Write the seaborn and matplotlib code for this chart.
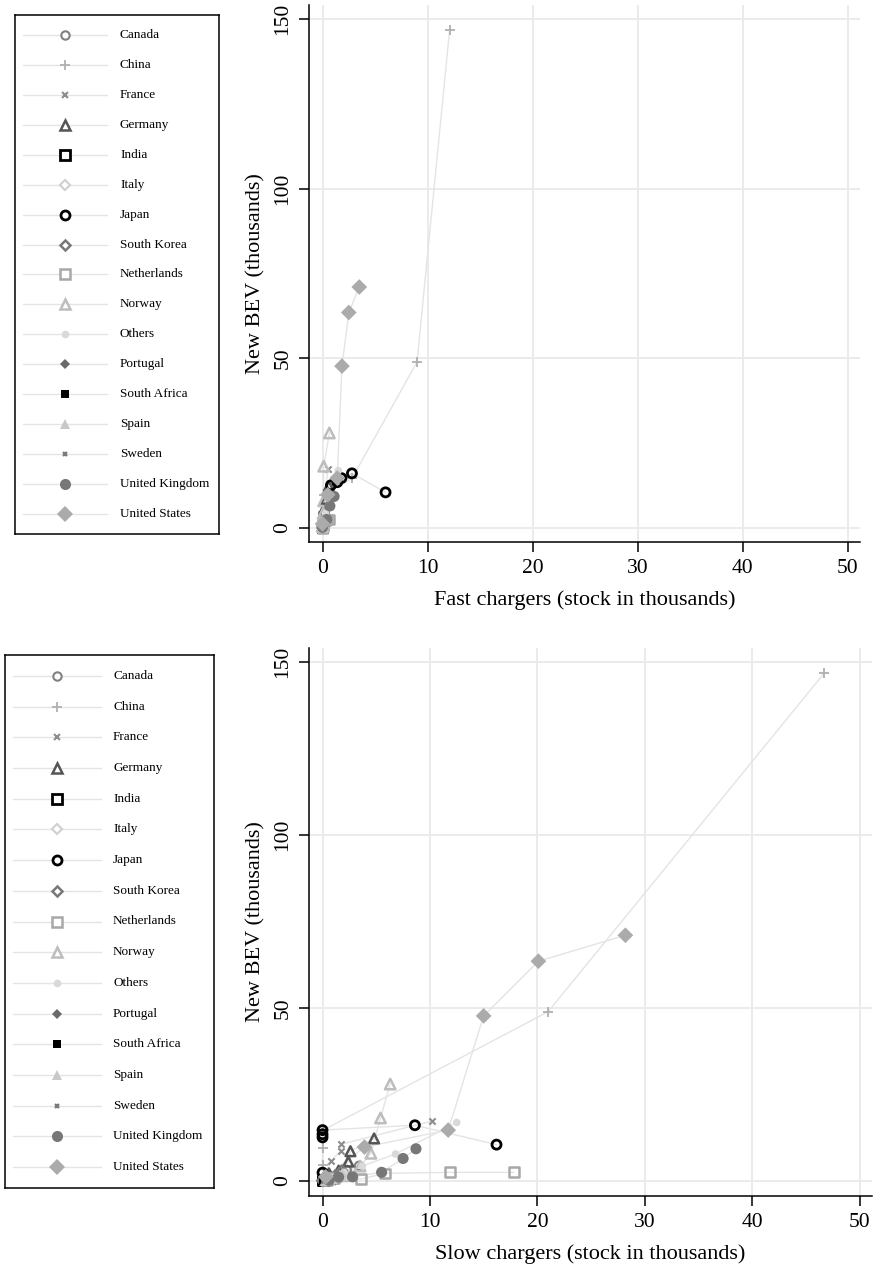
import numpy as np
import pandas as pd
import matplotlib
matplotlib.use("Agg")
import matplotlib.pyplot as plt
import seaborn as sns

# ---------------------------------------------------------------- data
years = [2010, 2011, 2012, 2013, 2014, 2015]

countries = ["Canada", "China", "France", "Germany", "India", "Italy", "Japan",
             "South Korea", "Netherlands", "Norway", "Others", "Portugal",
             "South Africa", "Spain", "Sweden", "United Kingdom", "United States"]

nan = np.nan

# new battery-electric vehicle sales (thousands), 2010-2015
new_bev = {
    "Canada":         [0.1, 0.2, 0.4, 1.7, 3.2, 4.4],
    "China":          [1.0, 4.6, 9.6, 14.6, 48.9, 146.7],
    "France":         [0.2, 2.6, 5.7, 8.8, 10.6, 17.3],
    "Germany":        [0.5, 2.2, 3.0, 5.6, 8.6, 12.3],
    "India":          [0.0, 0.1, 0.1, 0.2, 0.3, 0.5],
    "Italy":          [0.1, 0.3, 0.5, 0.9, 1.1, 1.5],
    "Japan":          [2.4, 12.6, 13.5, 14.7, 16.1, 10.5],
    "South Korea":    [0.1, 0.3, 0.5, 0.8, 1.3, 2.9],
    "Netherlands":    [0.1, 0.9, 0.6, 2.2, 2.5, 2.5],
    "Norway":         [0.4, 1.5, 4.3, 8.0, 18.2, 28.0],
    "Others":         [0.3, 1.0, 2.5, 4.3, 7.8, 16.9],
    "Portugal":       [0.0, 0.2, 0.1, 0.2, 0.2, 0.6],
    "South Africa":   [nan, nan, nan, 0.0, 0.1, 0.1],
    "Spain":          [0.1, 0.4, 0.4, 0.9, 1.4, 2.2],
    "Sweden":         [0.0, 0.2, 0.3, 0.4, 1.2, 2.9],
    "United Kingdom": [0.2, 1.1, 1.2, 2.5, 6.5, 9.3],
    "United States":  [1.2, 9.8, 14.7, 47.7, 63.5, 71.0],
}

# publicly accessible fast chargers (stock, thousands)
fast_chargers = {
    "Canada":         [0.0, 0.0, 0.02, 0.05, 0.1, 0.2],
    "China":          [0.0, 0.05, 0.1, 2.8, 9.0, 12.1],
    "France":         [0.0, 0.05, 0.1, 0.2, 0.3, 0.5],
    "Germany":        [0.0, 0.05, 0.1, 0.15, 0.3, 0.6],
    "India":          [0.0, 0.0, 0.0, 0.0, 0.0, 0.0],
    "Italy":          [0.0, 0.0, 0.02, 0.05, 0.1, 0.2],
    "Japan":          [0.3, 0.8, 1.4, 1.8, 2.8, 6.0],
    "South Korea":    [0.0, 0.05, 0.1, 0.2, 0.3, 0.4],
    "Netherlands":    [0.0, 0.05, 0.1, 0.25, 0.4, 0.6],
    "Norway":         [0.0, 0.0, 0.05, 0.1, 0.11, 0.65],
    "Others":         [0.0, 0.05, 0.15, 0.3, 0.6, 1.5],
    "Portugal":       [0.0, 0.0, 0.0, 0.01, 0.01, 0.05],
    "South Africa":   [nan, nan, nan, 0.0, 0.01, 0.02],
    "Spain":          [0.0, 0.01, 0.05, 0.1, 0.15, 0.2],
    "Sweden":         [0.0, 0.0, 0.05, 0.1, 0.15, 0.3],
    "United Kingdom": [0.0, 0.05, 0.1, 0.4, 0.7, 1.1],
    "United States":  [0.0, 0.5, 1.4, 1.85, 2.5, 3.5],
}

# publicly accessible slow chargers (stock, thousands)
slow_chargers = {
    "Canada":         [0.1, 0.6, 1.3, 1.3, 2.25, 3.4],
    "China":          [0.0, 0.0, 0.0, 0.0, 21.0, 46.7],
    "France":         [0.1, 0.3, 0.8, 1.7, 1.7, 10.2],
    "Germany":        [0.2, 0.6, 1.5, 2.4, 2.6, 4.8],
    "India":          [0.0, 0.0, 0.1, 0.2, 0.2, 0.2],
    "Italy":          [0.3, 0.5, 0.9, 1.3, 1.6, 1.9],
    "Japan":          [0.0, 0.0, 0.0, 0.0, 8.6, 16.2],
    "South Korea":    [0.0, 0.2, 0.4, 0.9, 1.2, 1.8],
    "Netherlands":    [0.4, 1.1, 3.6, 5.8, 11.9, 17.8],
    "Norway":         [0.3, 2.0, 3.5, 4.5, 5.4, 6.3],
    "Others":         [0.2, 0.8, 2.0, 3.7, 6.8, 12.5],
    "Portugal":       [0.9, 1.1, 1.2, 1.2, 1.2, 1.3],
    "South Africa":   [nan, nan, nan, 0.05, 0.1, 0.1],
    "Spain":          [0.2, 0.6, 1.0, 1.4, 1.7, 1.9],
    "Sweden":         [0.0, 0.2, 0.4, 0.6, 0.9, 1.3],
    "United Kingdom": [0.6, 1.5, 2.8, 5.5, 7.5, 8.7],
    "United States":  [0.3, 3.9, 11.7, 15.0, 20.1, 28.2],
}

# ---------------------------------------------------------------- styling
LINE = "#e4e4e4"
GRID = "#ebebeb"

# marker, size (pt), face colour (None = hollow), edge colour, edge width
marker_style = {
    "Canada":         ("o", 6.0, None,      "#808080", 1.5),
    "China":          ("+", 7.0, None,      "#b0b0b0", 1.3),
    "France":         ("x", 4.5, None,      "#8c8c8c", 1.5),
    "Germany":        ("^", 7.0, None,      "#555555", 1.8),
    "India":          ("s", 6.5, None,      "#000000", 2.0),
    "Italy":          ("D", 5.5, None,      "#d0d0d0", 1.5),
    "Japan":          ("o", 6.5, None,      "#000000", 2.0),
    "South Korea":    ("D", 5.5, None,      "#787878", 1.8),
    "Netherlands":    ("s", 7.0, None,      "#a8a8a8", 1.8),
    "Norway":         ("^", 7.5, None,      "#bdbdbd", 1.8),
    "Others":         ("o", 5.5, "#d9d9d9", "#d9d9d9", 0.0),
    "Portugal":       ("D", 5.0, "#6a6a6a", "#6a6a6a", 0.0),
    "South Africa":   ("s", 5.5, "#000000", "#000000", 0.0),
    "Spain":          ("^", 7.0, "#c8c8c8", "#c8c8c8", 0.0),
    "Sweden":         ("x", 3.0, None,      "#7a7a7a", 1.6),
    "United Kingdom": ("o", 8.0, "#777777", "#777777", 0.0),
    "United States":  ("D", 8.0, "#ababab", "#ababab", 0.0),
}

rows = []
for c in countries:
    for i, yr in enumerate(years):
        rows.append({"country": c, "year": yr, "bev": new_bev[c][i],
                     "fast": fast_chargers[c][i], "slow": slow_chargers[c][i]})
df = pd.DataFrame(rows)

sns.set_theme(style="white")
plt.rcParams["font.family"] = ["Liberation Serif", "DejaVu Serif"]
plt.rcParams["axes.unicode_minus"] = False

W, H = 880, 1269
fig = plt.figure(figsize=(W / 100, H / 100), dpi=100)


def px_rect(x0, y0, x1, y1):
    return [x0 / W, 1 - y1 / H, (x1 - x0) / W, (y1 - y0) / H]


def draw_panel(ax, xcol, xlabel, xlim, ylim):
    for c in countries:
        sub = df[df.country == c].dropna(subset=[xcol, "bev"]).sort_values("year")
        sns.lineplot(data=sub, x=xcol, y="bev", sort=False, estimator=None,
                     color=LINE, linewidth=1.0, ax=ax, zorder=2, legend=False)
    for c in countries:
        sub = df[df.country == c].dropna(subset=[xcol, "bev"]).sort_values("year")
        m, ms, face, edge, mew = marker_style[c]
        if m in ("+", "x"):
            sns.scatterplot(data=sub, x=xcol, y="bev", marker=m, s=ms ** 2,
                            color=edge, linewidth=mew, ax=ax, zorder=3, legend=False)
        elif face is None:
            sns.scatterplot(data=sub, x=xcol, y="bev", marker=m, s=ms ** 2,
                            color=edge, facecolor="none", edgecolor=edge,
                            linewidth=mew, ax=ax, zorder=3, legend=False)
        else:
            sns.scatterplot(data=sub, x=xcol, y="bev", marker=m, s=ms ** 2,
                            color=face, edgecolor="none", linewidth=0,
                            ax=ax, zorder=3, legend=False)
    ax.set_xlim(*xlim)
    ax.set_ylim(*ylim)
    ax.set_xticks([0, 10, 20, 30, 40, 50])
    ax.set_yticks([0, 50, 100, 150])
    ax.grid(True, color=GRID, linewidth=1.4, zorder=0)
    ax.set_axisbelow(True)
    for s in ("top", "right"):
        ax.spines[s].set_visible(False)
    for s in ("left", "bottom"):
        ax.spines[s].set_color("black")
        ax.spines[s].set_linewidth(1.1)
    ax.tick_params(axis="both", direction="out", length=7, width=1.1,
                   color="black", labelsize=15.5, labelcolor="black", pad=5,
                   left=True, bottom=True)
    for lab in ax.get_yticklabels():
        lab.set_rotation(90)
        lab.set_va("center")
    ax.set_xlabel(xlabel, fontsize=16, color="black", labelpad=9)
    ax.set_ylabel("New BEV (thousands)", fontsize=16, color="black", labelpad=6)


def draw_key(ax, width_px, x_line0, x_line1, x_mark, x_text):
    n = len(countries)
    ax.set_xlim(0, width_px)
    ax.set_ylim(n - 1 + 0.68, -0.68)
    ax.set_xticks([])
    ax.set_yticks([])
    for s in ax.spines.values():
        s.set_color("black")
        s.set_linewidth(1.1)
        s.set_visible(True)
    ax.set_facecolor("white")
    for i, c in enumerate(countries):
        m, ms, face, edge, mew = marker_style[c]
        ax.plot([x_line0, x_line1], [i, i], color=LINE, lw=1.0, zorder=1)
        if m in ("+", "x"):
            ax.plot([x_mark], [i], marker=m, ms=ms, mew=mew, color=edge,
                    ls="none", zorder=2)
        elif face is None:
            ax.plot([x_mark], [i], marker=m, ms=ms, mew=mew, mec=edge,
                    mfc="white", ls="none", zorder=2)
        else:
            ax.plot([x_mark], [i], marker=m, ms=ms, mew=0, mfc=face,
                    ls="none", zorder=2)
        ax.text(x_text, i, c, fontsize=9.5, va="center", ha="left", color="black")


# top: fast chargers
ax1 = fig.add_axes(px_rect(309, 5, 860, 542))
draw_panel(ax1, "fast", "Fast chargers (stock in thousands)",
           (-1.29, 51.19), (-4.13, 154.1))
key1 = fig.add_axes(px_rect(15, 15, 219, 534))
draw_key(key1, 204, 8, 92, 50, 105)

# bottom: slow chargers
ax2 = fig.add_axes(px_rect(309, 648, 872, 1196))
draw_panel(ax2, "slow", "Slow chargers (stock in thousands)",
           (-1.26, 51.16), (-4.34, 154.0))
key2 = fig.add_axes(px_rect(5, 655, 214, 1188))
draw_key(key2, 209, 8, 96, 52, 108)

fig.savefig("out.png", dpi=100, facecolor="white")
